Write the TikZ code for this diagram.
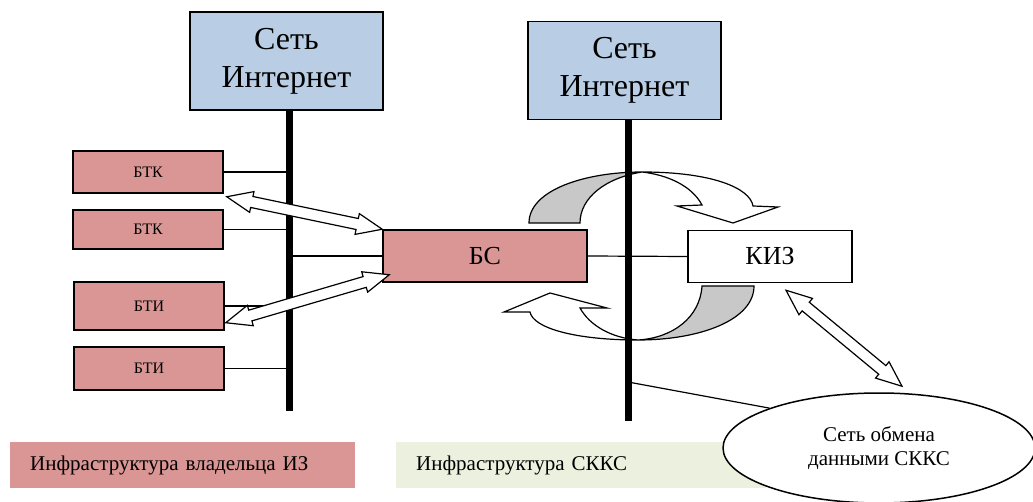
\documentclass[tikz,border=0pt]{standalone}
\usepackage{fontspec}
\setmainfont{Liberation Serif}
\usetikzlibrary{shapes,shapes.geometric,shapes.arrows,calc}
\definecolor{netblue}{HTML}{B9CDE5}
\definecolor{ownpink}{HTML}{D99694}
\definecolor{skksgreen}{HTML}{EBF1DE}
\definecolor{tailgrey}{HTML}{C8C8C8}
\tikzset{
  net/.style={
      draw,
      line width=1.5pt,
      fill=netblue,
      minimum width=193pt,
      minimum height=98pt,
      align=center,
      font=\fontsize{32}{38}\selectfont
  },
  unit/.style={
      draw,
      line width=1.5pt,
      fill=ownpink,
      minimum width=150pt,
      font=\fontsize{16}{19}\selectfont
  },
  hub/.style={
      draw,
      line width=1.5pt,
      minimum height=52pt,
      font=\fontsize{26}{31}\selectfont
  },
  bus/.style={line width=7pt},
  link/.style={line width=1.2pt},
  curl/.style={line width=1.2pt},
  dblarr/.style={
      shape=double arrow,
      draw,
      line width=1.2pt,
      fill=white,
      inner sep=0pt,
      text height=5pt,
      text depth=5pt,
      double arrow head extend=5pt,
      double arrow tip angle=45
  },
  legend/.style={
      anchor=west,
      minimum height=46pt,
      inner xsep=20pt,
      align=left,
      font=\fontsize{21}{25}\selectfont
  }
}
\newcommand{\dblarrow}[2]{%
  \path let \p1=($(#2)-(#1)$) in
    node[dblarr, rotate={atan2(\y1,\x1)}, minimum height={veclen(\x1,\y1)}]
      at ($(#1)!0.5!(#2)$) {};}

\begin{document}
\begin{tikzpicture}[x=1pt,y=-1pt]
\useasboundingbox (0,0) rectangle (1033,502);
\node[net] (netL) at (286.5,61) {Сеть\\Интернет};
\node[net] (netR) at (624.5,70.5) {Сеть\\Интернет};
\node[unit, minimum height=42pt] (btk1) at (148,172) {БТК};
\node[unit, minimum height=39pt] (btk2) at (148,229.5) {БТК};
\node[unit, minimum height=48pt] (bti1) at (149,306) {БТИ};
\node[unit, minimum height=43pt] (bti2) at (149,368.5) {БТИ};
\node[hub, fill=ownpink, minimum width=204pt] (bs) at (485,256) {БС};
\node[hub, fill=white, minimum width=164pt] (kiz) at (770,256.5) {КИЗ};
\node[legend, fill=ownpink, text width=305pt] (legOwn) at (10,465) {Инфраструктура владельца ИЗ};
\node[legend, fill=skksgreen, text width=330pt] (legSkks) at (396,465) {Инфраструктура СККС};
\coordinate (busLb) at (289,411);
\coordinate (busRb) at (628,421);
\coordinate (tap) at (628,382);
\draw[curl, fill=tailgrey] (529,223) .. controls (529,190) and (585,172) .. (642,172)
  .. controls (605,178) and (580,198) .. (580,223) -- cycle;
\draw[curl, fill=white] (642,172) .. controls (712,172) and (750,188) .. (753,206)
  -- (778,207) -- (733,223) -- (677,206) -- (702,205)
  .. controls (692,186) and (668,175) .. (642,172) -- cycle;
\draw[curl, fill=tailgrey] (702,286) .. controls (700,318) and (672,338) .. (638,340)
  .. controls (700,340) and (754,320) .. (754,286) -- cycle;
\draw[curl, fill=white] (638,340) .. controls (575,340) and (533,328) .. (530,312)
  -- (504,312) -- (550,293) -- (607,308) -- (580,308)
  .. controls (590,326) and (612,338) .. (638,340) -- cycle;
\draw[bus] (netL.south -| busLb) -- (busLb);
\draw[bus] (netR.south -| busRb) -- (busRb);
\draw[link] (btk1.east) -- (btk1.east -| busLb);
\draw[link] (btk2.east) -- (btk2.east -| busLb);
\draw[link] (bti1.east) -- (bti1.east -| busLb);
\draw[link] (bti2.east) -- (bti2.east -| busLb);
\draw[link] (bs.west -| busLb) -- (bs.west);
\draw[link] (bs.east) -- (kiz.west);
\node[draw, line width=1.5pt, fill=white, ellipse, minimum width=312pt, minimum height=110pt,
  align=center, font=\fontsize{21}{24}\selectfont] (sk) at (879,448) {Сеть обмена\\данными СККС};
\draw[link] (tap) -- (sk.160);
\dblarrow{$(btk1.south east)+(3,3)$}{bs.north west}
\dblarrow{$(bti1.south east)+(1,-8)$}{$(bs.south west)+(7,-8)$}
\dblarrow{$(kiz.south)+(16,7)$}{$(sk.north)+(23,-6)$}
\end{tikzpicture}
\end{document}
